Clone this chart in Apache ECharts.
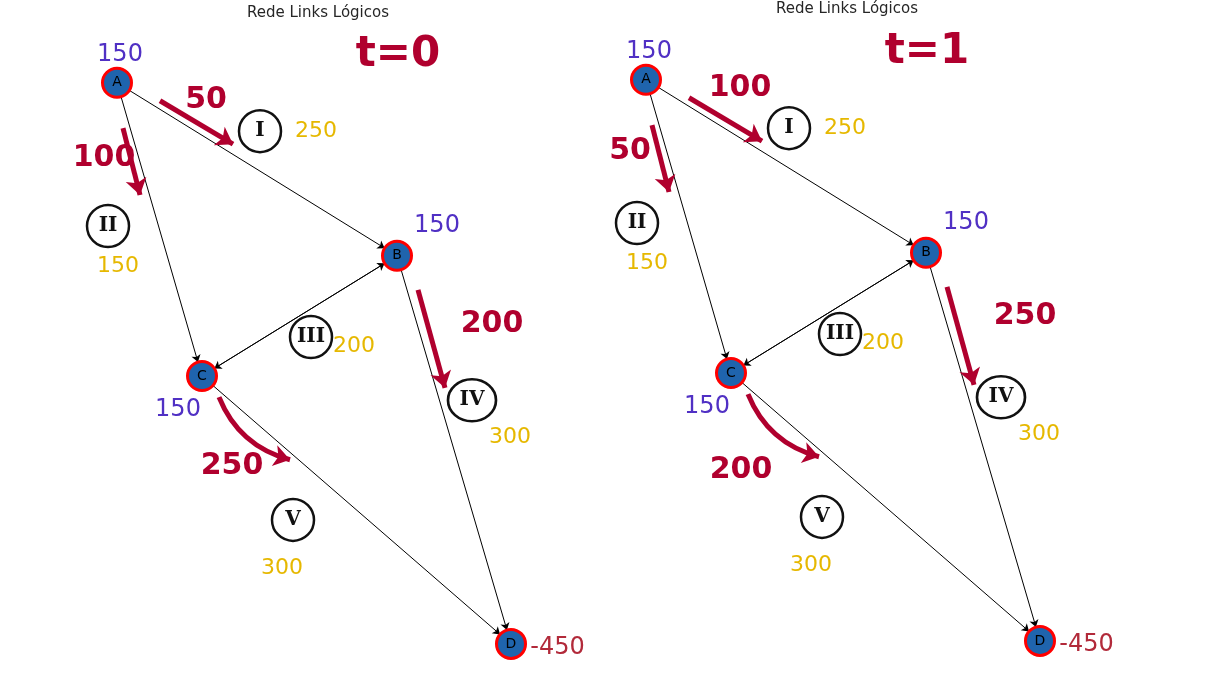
<!DOCTYPE html>
<html>
<head>
<meta charset="utf-8">
<script src="https://cdn.jsdelivr.net/npm/echarts@6/dist/echarts.min.js"></script>
<style>
  html, body { margin: 0; padding: 0; background: #fff; }
  #main { width: 1205px; height: 688px; }
</style>
</head>
<body>
<div id="main"></div>
<script>
var myChart = echarts.init(document.getElementById('main'))

// rede: nós e posições (layout do grafo, mesmo nos dois instantes)
var nodeNames = ['A', 'B', 'C', 'D']
var nodeX = [1.14, 6.74, 2.84, 9.02]
var nodeY = [9.31, 6.52, 4.58, 0.26]
var nodeSupply = ['150', '150', '150', '-450']
var supplyX = [1.2, 7.54, 2.36, 9.95]
var supplyY = [9.76, 7.0, 4.03, 0.19]

// ligações dirigidas (origem, destino); B<->C nos dois sentidos
var linkSource = [0, 0, 1, 2, 2, 1]
var linkTarget = [1, 2, 2, 1, 3, 3]

// links lógicos I..V e capacidades
var linkLabels = ['I', 'II', 'III', 'IV', 'V']
var linkCapacity = ['250', '150', '200', '300', '300']
var labelX = [4.0, 0.96, 5.02, 8.24, 4.66]
var labelY = [8.53, 7.0, 5.21, 4.19, 2.26]
var capX = [5.12, 1.16, 5.88, 9.0, 4.44]
var capY = [8.53, 6.35, 5.06, 3.6, 1.48]

// fluxos (A-B, A-C, B-D, C-D) em t=0 e t=1
var timeLabels = ['t=0', 't=1']
var flowT0 = ['50', '100', '200', '250']
var flowT1 = ['100', '50', '250', '200']
var flowFromX = [2.0, 1.26, 7.16, 3.18]
var flowFromY = [9.02, 8.58, 5.97, 4.24]
var flowToX = [3.46, 1.6, 7.7, 4.6]
var flowToY = [8.32, 7.5, 4.39, 3.23]
var flowCurve = [0, 0, 0, -0.25]
var flowTextT0X = [2.92, 0.88, 8.64, 3.44]
var flowTextT0Y = [9.03, 8.1, 5.42, 3.13]
var flowTextT1X = [3.02, 0.82, 8.72, 3.04]
var flowTextT1Y = [9.18, 8.15, 5.5, 3.02]

var red = '#b0002e'

function textSeries(idx, xs, ys, texts, labelStyle) {
    return {
        type: 'scatter',
        xAxisIndex: idx,
        yAxisIndex: idx,
        clip: false,
        silent: true,
        symbolSize: 1,
        itemStyle: { color: 'rgba(0,0,0,0)', opacity: 1 },
        z: 5,
        label: Object.assign({ show: true, position: 'inside', formatter: '{b}' }, labelStyle),
        data: texts.map(function (t, i) {
            return { name: t, value: [xs[i], ys[i]] }
        })
    }
}

function panel(idx, flows, flowTx, flowTy, timeLabel) {
    var series = []

    // grafo
    series.push({
        type: 'graph',
        coordinateSystem: 'cartesian2d',
        xAxisIndex: idx,
        yAxisIndex: idx,
        symbolSize: 29,
        edgeSymbol: ['none', 'arrow'],
        edgeSymbolSize: 7,
        itemStyle: { color: '#1f64ad', borderColor: '#ff0000', borderWidth: 3, opacity: 1 },
        label: { show: true, position: 'inside', formatter: '{b}', color: '#000', fontSize: 14, fontFamily: 'DejaVu Sans' },
        lineStyle: { color: '#000', width: 1, opacity: 1 },
        z: 3,
        data: nodeNames.map(function (n, i) {
            return { name: n, value: [nodeX[i], nodeY[i]] }
        }),
        links: linkSource.map(function (s, i) {
            return { source: s, target: linkTarget[i] }
        })
    })

    // setas de fluxo
    series.push({
        type: 'lines',
        coordinateSystem: 'cartesian2d',
        xAxisIndex: idx,
        yAxisIndex: idx,
        clip: false,
        silent: true,
        symbol: ['none', 'arrow'],
        symbolSize: 16,
        z: 4,
        data: flows.map(function (f, i) {
            return {
                coords: [[flowFromX[i], flowFromY[i]], [flowToX[i], flowToY[i]]],
                lineStyle: { color: red, width: 5, curveness: flowCurve[i], opacity: 1 }
            }
        })
    })

    // círculos dos links lógicos
    series.push({
        type: 'scatter',
        xAxisIndex: idx,
        yAxisIndex: idx,
        clip: false,
        silent: true,
        symbol: 'circle',
        z: 4,
        itemStyle: { color: '#fff', borderColor: '#111', borderWidth: 2.5, opacity: 1 },
        label: { show: true, position: 'inside', formatter: '{b}', color: '#111', fontSize: 20, fontWeight: 'bold', fontFamily: 'DejaVu Serif' },
        data: linkLabels.map(function (l, i) {
            return { name: l, value: [labelX[i], labelY[i]], symbolSize: l === 'IV' ? [48, 42] : 42 }
        })
    })

    series.push(textSeries(idx, capX, capY, linkCapacity,
        { color: '#e6b800', fontSize: 22, fontFamily: 'DejaVu Sans' }))
    series.push(textSeries(idx, flowTx, flowTy, flows,
        { color: red, fontSize: 30, fontWeight: 'bold', fontFamily: 'DejaVu Sans' }))
    series.push(textSeries(idx, supplyX.slice(0, 3), supplyY.slice(0, 3), nodeSupply.slice(0, 3),
        { color: '#5030c4', fontSize: 24, fontFamily: 'DejaVu Sans' }))
    series.push(textSeries(idx, supplyX.slice(3), supplyY.slice(3), nodeSupply.slice(3),
        { color: '#b22a3a', fontSize: 24, fontFamily: 'DejaVu Sans' }))
    series.push(textSeries(idx, [6.76], [9.76], [timeLabel],
        { color: red, fontSize: 42, fontWeight: 'bold', fontFamily: 'DejaVu Sans' }))

    return series
}

var axisOff = { type: 'value', min: 0, max: 10, show: false }

option = {
    animation: false,
    backgroundColor: '#fff',
    title: [{
        text: 'Rede Links Lógicos',
        left: 313, top: 1, textAlign: 'center',
        textStyle: { fontSize: 15, fontWeight: 'normal', color: '#262626', fontFamily: 'DejaVu Sans' }
    }, {
        text: 'Rede Links Lógicos',
        left: 842, top: -3, textAlign: 'center',
        textStyle: { fontSize: 15, fontWeight: 'normal', color: '#262626', fontFamily: 'DejaVu Sans' }
    }],
    grid: [
        { left: 60, top: 40, width: 500, height: 620 },
        { left: 589, top: 37, width: 500, height: 620 }
    ],
    xAxis: [
        Object.assign({ gridIndex: 0 }, axisOff),
        Object.assign({ gridIndex: 1 }, axisOff)
    ],
    yAxis: [
        Object.assign({ gridIndex: 0 }, axisOff),
        Object.assign({ gridIndex: 1 }, axisOff)
    ],
    series: panel(0, flowT0, flowTextT0X, flowTextT0Y, timeLabels[0])
        .concat(panel(1, flowT1, flowTextT1X, flowTextT1Y, timeLabels[1]))
};

myChart.setOption(option);
</script>
</body>
</html>
